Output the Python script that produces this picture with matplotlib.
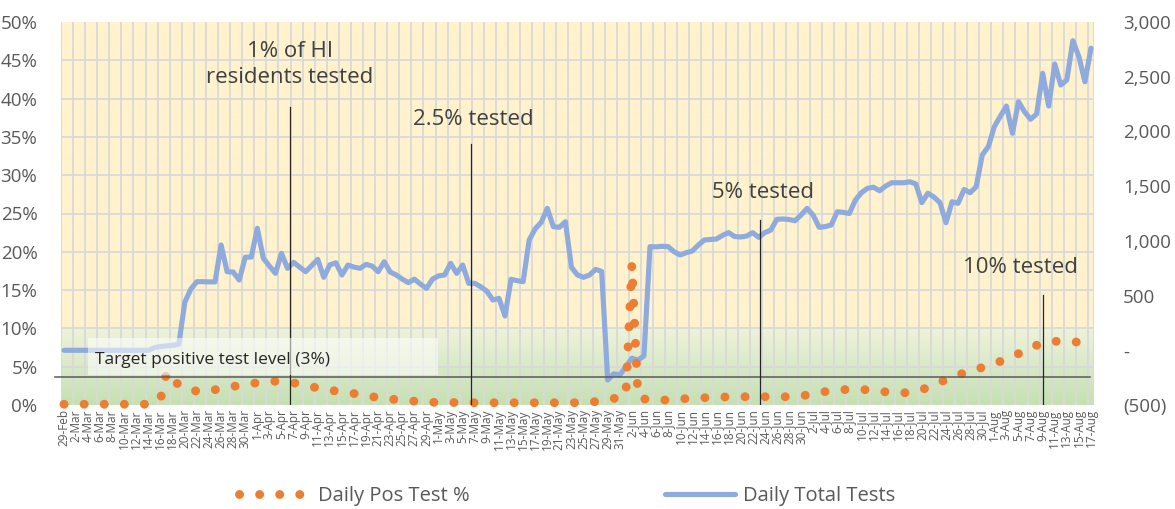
import numpy as np
import pandas as pd
import matplotlib
matplotlib.use('Agg')
from matplotlib import pyplot as plt
from matplotlib.patches import Rectangle
from matplotlib.colors import to_rgb
from matplotlib.ticker import FuncFormatter

plt.rcParams['font.family'] = ['Open Sans', 'DejaVu Sans']

# daily categories 29-Feb .. 17-Aug
dates = pd.date_range('2020-02-29', '2020-08-17', freq='D')
date_labels = [f"{d.day}-{d.strftime('%b')}" for d in dates]

# Daily Pos Test % (left axis)
pos_pct = [
    0.1, 0.1, 0.1, 0.1, 0.1, 0.1, 0.1, 0.1, 0.1, 0.1, 0.1, 0.1, 0.1, 0.1, 0.1,
    0.3, 0.9, 4.3, 3.4, 2.6, 2.2, 2.0, 1.8, 1.7, 1.8, 2.0, 2.1, 2.3, 2.4, 2.6,
    2.7, 2.8, 2.9, 3.0, 3.1, 3.1, 3.1, 3.0, 2.9, 2.7, 2.5, 2.4, 2.2, 2.1, 2.0,
    1.8, 1.7, 1.6, 1.5, 1.35, 1.2, 1.1, 0.95, 0.9, 0.8, 0.7, 0.65, 0.55, 0.5, 0.45,
    0.4, 0.35, 0.35, 0.35, 0.35, 0.3, 0.3, 0.3, 0.3, 0.3, 0.3, 0.3, 0.3, 0.3, 0.3,
    0.3, 0.3, 0.3, 0.3, 0.3, 0.3, 0.3, 0.3, 0.3, 0.3, 0.3, 0.3, 0.35, 0.45, 0.55,
    0.7, 0.85, 1.0, 1.3, 18.3, 1.2, 0.8, 0.65, 0.65, 0.65, 0.65, 0.65, 0.75, 0.85, 0.85,
    0.95, 0.95, 0.95, 1.05, 1.05, 1.05, 1.08, 1.08, 1.08, 1.08, 1.08, 1.08, 1.08, 1.08, 1.08,
    1.08, 1.1, 1.2, 1.3, 1.45, 1.6, 1.75, 1.87, 1.95, 2.0, 2.05, 2.0, 2.0, 2.0, 2.0,
    1.9, 1.7, 1.6, 1.6, 1.6, 1.6, 1.8, 2.0, 2.3, 2.6, 3.0, 3.3, 3.6, 3.9, 4.2,
    4.4, 4.65, 4.9, 5.1, 5.4, 5.7, 6.0, 6.35, 6.7, 7.1, 7.45, 7.8, 8.1, 8.2, 8.3,
    8.35, 8.3, 8.25, 8.2, 8.2, 8.2,
]

# Daily Total Tests (right axis)
total_tests = [
    0, 0, 0, 0, 0, 0, 0, 0, 0, 0, 0, 0, 0, 0, 0,
    25, 35, 40, 45, 55, 440, 560, 627, 627, 625, 625, 962, 718, 715, 642,
    850, 852, 1115, 840, 770, 703, 886, 749, 804, 760, 718, 775, 831, 667, 780,
    800, 688, 779, 760, 749, 785, 770, 718, 809, 715, 688, 650, 618, 650, 605,
    566, 650, 680, 688, 795, 703, 779, 612, 612, 580, 540, 459, 475, 313, 649,
    636, 627, 1008, 1110, 1170, 1297, 1129, 1124, 1175, 758, 688, 667, 688, 740, 720,
    -272, -215, -226, -150, -73, -89, -52, 947, 945, 950, 947, 900, 871, 892, 907,
    962, 1008, 1012, 1017, 1050, 1075, 1040, 1035, 1044, 1075, 1032, 1075, 1099, 1197, 1200,
    1195, 1184, 1236, 1297, 1236, 1124, 1130, 1145, 1266, 1260, 1250, 1373, 1440, 1480, 1490,
    1458, 1500, 1531, 1531, 1531, 1540, 1520, 1349, 1435, 1400, 1349, 1166, 1358, 1343, 1470,
    1440, 1495, 1785, 1860, 2043, 2140, 2232, 1983, 2272, 2180, 2111, 2159, 2531, 2232, 2616,
    2424, 2470, 2829, 2683, 2454, 2760,
]

# milestone annotations: (x index, top of line in %, label, label x, label y)
milestones = [
    (37.4, 38.9, '1% of HI\nresidents tested', 37.4, 44.4),
    (67.3, 34.1, '2.5% tested', 67.8, 37.3),
    (115.2, 24.2, '5% tested', 115.7, 27.7),
    (162.0, 14.4, '10% tested', 158.4, 17.9),
]
target_level = 3.65

x = np.arange(len(dates))
gray = '#595959'

fig = plt.figure(figsize=(11.75, 5.09), dpi=100)
ax = fig.add_axes([61 / 1175, 1 - 405 / 509, 1033 / 1175, 383 / 509])
ax2 = ax.twinx()
ax.set_zorder(2)
ax2.set_zorder(1)
ax.patch.set_visible(False)

# background gradient (yellow above ~10%, green fading towards 0)
n = 400
f = np.linspace(1, 0, n)
yellow = np.array(to_rgb('#FFF2CC'))
g_top = np.array(to_rgb('#EEF3DA'))
g_bot = np.array(to_rgb('#C5E0B3'))
t = np.clip(f / 0.2, 0, 1)[:, None]
grad = np.where(f[:, None] > 0.2, yellow, g_bot + (g_top - g_bot) * t)
ax2.imshow(grad[:, None, :], extent=[0, 1, 0, 1], transform=ax2.transAxes,
           aspect='auto', zorder=0, interpolation='bilinear')

# series
l2, = ax2.plot(x, total_tests, color='#8FAADC', lw=3.7, solid_joinstyle='round',
               solid_capstyle='round', zorder=2, label='Daily Total Tests')
l1, = ax.plot(x, pos_pct, color='#ED7D31', lw=6.4, linestyle=(0, (0.01, 2.25)),
              dash_capstyle='round', clip_on=False, zorder=2, label='Daily Pos Test %')

ax.set_xlim(-0.5, len(dates) - 0.5)
ax.set_ylim(0, 50)
ax2.set_ylim(-500, 3000)

# gridlines drawn on the lower axes so they stay behind the lines
ax2.xaxis.set_visible(True)
ax2.set_xticks(list(np.arange(-0.5, len(dates), 2)) + [len(dates) - 0.5], minor=True)
ax2.set_yticks(np.arange(-150, 3001, 350), minor=True)
ax2.set_axisbelow(True)
ax2.grid(which='minor', color='#D9D9D9', lw=1.3)
ax2.grid(which='major', visible=False)

ax.set_xticks(x[::2])
ax.set_xticklabels(date_labels[::2], rotation=90, fontsize=8.5, color=gray)
ax.set_yticks(np.arange(0, 51, 5))
ax.yaxis.set_major_formatter(FuncFormatter(lambda v, _: f'{v:.0f}%'))
ax.tick_params(axis='y', length=0, pad=17, labelsize=13.5, labelcolor=gray)
ax.tick_params(axis='x', which='both', length=0, pad=3)

ax2.set_yticks(np.arange(-500, 3001, 500))


def acct(v, _):
    if v == 0:
        return '-'
    if v < 0:
        return f'({-v:,.0f})'
    return f'{v:,.0f}'


ax2.yaxis.set_major_formatter(FuncFormatter(acct))
ax2.tick_params(axis='y', which='both', length=0, pad=21, labelsize=13.5, labelcolor=gray)
ax2.tick_params(axis='x', which='both', length=0, labelbottom=False)

for a in (ax, ax2):
    for s in a.spines.values():
        s.set_visible(False)

# target line and its label box
ax.plot([-0.006, 0.996], [target_level, target_level], color='#595959', lw=1.1,
        transform=ax.get_yaxis_transform(), clip_on=False, zorder=3)
ax.add_patch(Rectangle((0.026, 0.078), 0.339, 0.097, transform=ax.transAxes,
                       facecolor='white', alpha=0.55, edgecolor='none', zorder=4))
ax.text(0.033, 0.1175, 'Target positive test level (3%)', transform=ax.transAxes,
        fontsize=12.5, color='#262626', va='center', ha='left', zorder=5)

for xi, top, label, tx, ty in milestones:
    ax.plot([xi, xi], [0, top], color='#262626', lw=0.9, zorder=3)
    ax.text(tx, ty, label, fontsize=16, color='#404040', ha='center', va='center',
            linespacing=1.3, zorder=5)

fig.legend([l1, l2], ['Daily Pos Test %', 'Daily Total Tests'], loc='center',
           bbox_to_anchor=(0.483, 0.026), ncol=2, frameon=False, fontsize=14.5,
           handlelength=3.5, handletextpad=0.4, columnspacing=9.7, labelcolor=gray)

fig.savefig('out.png', dpi=100)
